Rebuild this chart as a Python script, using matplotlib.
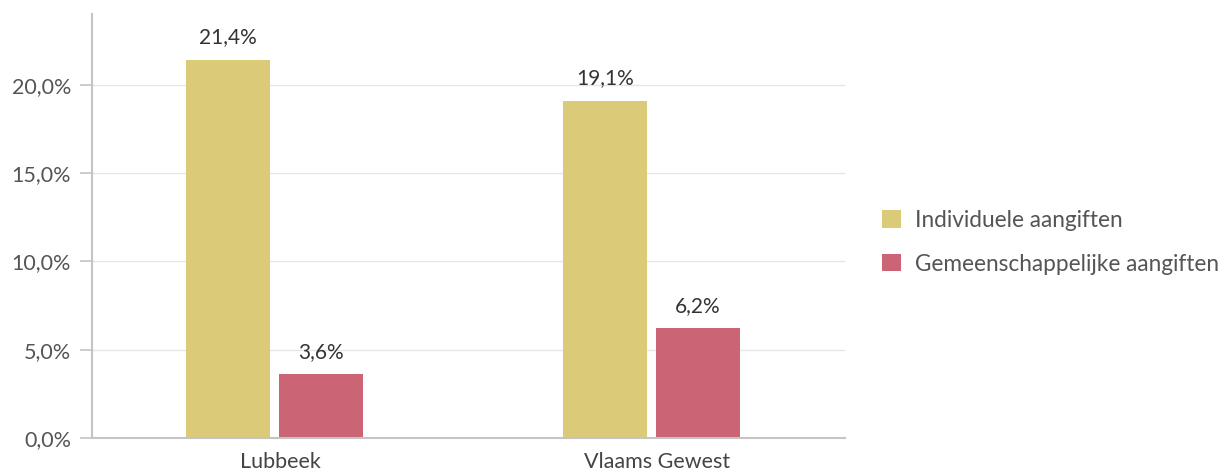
import matplotlib.pyplot as plt
from matplotlib.patches import Patch
from matplotlib.ticker import FuncFormatter, MultipleLocator

plt.rcParams['font.family'] = ['Lato', 'DejaVu Sans']

# data
categories = ['Lubbeek', 'Vlaams Gewest']
series_names = ['Individuele aangiften', 'Gemeenschappelijke aangiften']
individueel = [21.4, 19.1]
gemeenschappelijk = [3.6, 6.2]
colors = ['#DBCB78', '#CB6475']

fig = plt.figure(figsize=(12.21, 4.75), dpi=100)
ax = fig.add_axes([0.0753, 0.0779, 0.617, 0.8926])

x = range(len(categories))
w = 0.223
shift = -0.015
off = 0.1235
b1 = ax.bar([i + shift - off for i in x], individueel, width=w, color=colors[0])
b2 = ax.bar([i + shift + off for i in x], gemeenschappelijk, width=w, color=colors[1])

# waarden boven de staven
for bars, vals in ((b1, individueel), (b2, gemeenschappelijk)):
    for b, v in zip(bars, vals):
        ax.annotate(f'{v:.1f}%'.replace('.', ','),
                    (b.get_x() + b.get_width() / 2, v),
                    xytext=(0, 9), textcoords='offset points',
                    ha='center', va='bottom', fontsize=15, color='#333333')

ax.set_xlim(-0.5, 1.5)
ax.set_ylim(0, 24)
ax.yaxis.set_major_locator(MultipleLocator(5))
ax.yaxis.set_major_formatter(FuncFormatter(lambda v, p: f'{v:.1f}%'.replace('.', ',')))
ax.set_xticks(list(x))
ax.set_xticklabels(categories)

ax.grid(axis='y', color='#e6e6e6', linewidth=1)
ax.set_axisbelow(True)
for s in ('top', 'right'):
    ax.spines[s].set_visible(False)
for s in ('left', 'bottom'):
    ax.spines[s].set_color('#c4c4c4')
    ax.spines[s].set_linewidth(1.5)

ax.tick_params(axis='y', length=9, width=1.2, color='#c4c4c4', pad=6,
               labelsize=15.5, labelcolor='#555555')
ax.tick_params(axis='x', length=0, pad=10, labelsize=15.5, labelcolor='#444444')

handles = [Patch(facecolor=c, edgecolor='none') for c in colors]
fig.legend(handles, series_names, loc='center left', bbox_to_anchor=(0.706, 0.49),
           frameon=False, fontsize=16.3, labelcolor='#555555',
           handlelength=0.8, handleheight=0.8, handletextpad=0.62, labelspacing=1.0)

fig.savefig('out.png', dpi=100)
